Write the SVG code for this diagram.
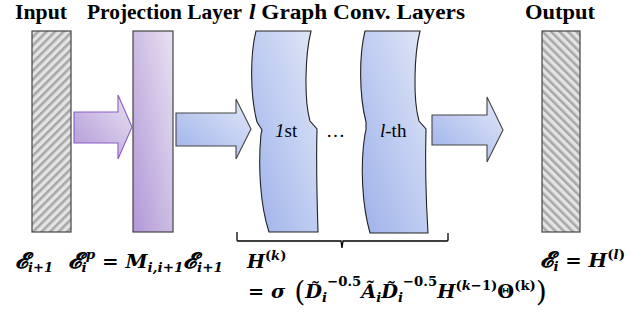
<svg xmlns="http://www.w3.org/2000/svg" width="644" height="326" viewBox="0 0 644 326">
<defs>
<linearGradient id="gBlue" x1="0" y1="1" x2="1" y2="0">
<stop offset="0" stop-color="#9db1ea"/><stop offset="1" stop-color="#e2e8f8"/>
</linearGradient>
<linearGradient id="gPurple" x1="0" y1="1" x2="1" y2="0">
<stop offset="0" stop-color="#b197d6"/><stop offset="1" stop-color="#e8e2f2"/>
</linearGradient>
<pattern id="hatchA" width="6" height="6" patternUnits="userSpaceOnUse" patternTransform="rotate(45)">
<rect width="6" height="6" fill="#e4e4e4"/><rect width="2.6" height="6" fill="#a8a8a8"/>
</pattern>
<pattern id="hatchB" width="6" height="6" patternUnits="userSpaceOnUse" patternTransform="rotate(-45)">
<rect width="6" height="6" fill="#e4e4e4"/><rect width="2.6" height="6" fill="#a8a8a8"/>
</pattern>
<style>
.title{font-family:"Liberation Serif","Times New Roman",serif;font-weight:bold;font-size:20px;fill:#000}
.lbl{font-family:"Liberation Serif","Times New Roman",serif;font-size:19px;fill:#000}
.math{font-family:"DejaVu Serif","Liberation Serif",serif;font-weight:bold;font-style:italic;font-size:19px;fill:#000}
.s{font-size:13px}
.up{font-style:normal}
.box{stroke:#444;stroke-width:1.2}
.layer{fill:url(#gBlue);stroke:#222;stroke-width:1.1}
</style>
</defs>
<rect width="644" height="326" fill="#fff"/>

<g id="titles">
<text class="title" x="15" y="19" textLength="52" lengthAdjust="spacingAndGlyphs">Input</text>
<text class="title" x="87" y="19" textLength="155" lengthAdjust="spacingAndGlyphs">Projection Layer</text>
<text class="title" x="249" y="19" textLength="216" lengthAdjust="spacingAndGlyphs"><tspan font-style="italic">l</tspan> Graph Conv. Layers</text>
<text class="title" x="525" y="19" textLength="70" lengthAdjust="spacingAndGlyphs">Output</text>
</g>

<g id="input">
<rect class="box" x="32" y="31" width="39" height="201" fill="url(#hatchA)"/>
</g>

<g id="projection">
<rect class="box" x="133" y="31" width="40" height="201" fill="url(#gPurple)"/>
</g>

<g id="layer1">
<path class="layer" d="M256,31 H311 C305,55 304,100 310,121 L317,129 C316,165 317,200 318,232 H269 C260,205 258,165 261,134 L262,130 L257,122 C250,95 250,55 256,31 Z"/>
<text class="lbl" x="275" y="137"><tspan font-style="italic">1</tspan>st</text>
</g>

<g id="dots">
<text class="lbl" x="326" y="137">…</text>
</g>

<g id="layerL">
<path class="layer" d="M365,31 H420 C414,55 413,100 419,121 L426,129 C425,165 426,200 428,233 H370 C362,205 360,165 365,134 L366,130 L366,122 C359,95 359,55 365,31 Z"/>
<text class="lbl" x="380" y="137"><tspan font-style="italic">l</tspan>-th</text>
</g>

<g id="output">
<rect class="box" x="542" y="31" width="38" height="201" fill="url(#hatchB)"/>
</g>

<g id="connectors">
<path d="M74,112 H118 V95 L132,127 L118,159 V143 H74 Z" fill="url(#gPurple)" stroke="#8a5cc6" stroke-width="1.1"/>
<path d="M176,113 H236 V99 L251,129 L236,159 V146 H176 Z" fill="url(#gBlue)" stroke="#444" stroke-width="1.1"/>
<path d="M432,115 H487 V97 L503,130 L487,162 V145 H432 Z" fill="url(#gBlue)" stroke="#444" stroke-width="1.1"/>
<path d="M237,232 V240 Q237,241 238,241 H341 L342,248 L343,241 H447 Q448,241 448,240 V233" fill="none" stroke="#000" stroke-width="1.3"/>
</g>

<g id="equations">
<text class="math" x="15" y="268" textLength="38" lengthAdjust="spacingAndGlyphs"><tspan font-size="22">𝓔</tspan><tspan class="s" dy="4">i+1</tspan></text>
<text class="math" x="68" y="268" textLength="155" lengthAdjust="spacingAndGlyphs"><tspan font-size="22">𝓔</tspan><tspan class="s" dy="4">i</tspan><tspan class="s" dx="-1" dy="-13">p</tspan><tspan dy="9" class="up"> = </tspan>M<tspan class="s" dy="4">i,i+1</tspan><tspan dy="-4" font-size="22">𝓔</tspan><tspan class="s" dy="4">i+1</tspan></text>
<text class="math" x="247" y="268">H<tspan class="s up" dy="-8">(</tspan><tspan class="s">k</tspan><tspan class="s up">)</tspan></text>
<text class="math" x="248" y="298" textLength="299" lengthAdjust="spacingAndGlyphs"><tspan class="up">= </tspan>σ<tspan class="up" font-size="28" dy="3" font-weight="normal"> (</tspan><tspan dy="-3">D̃</tspan><tspan class="s" dy="4">i</tspan><tspan class="s up" dy="-16">−0.5</tspan><tspan dy="12">Ã</tspan><tspan class="s" dy="4">i</tspan><tspan dy="-4">D̃</tspan><tspan class="s" dy="4">i</tspan><tspan class="s up" dy="-16">−0.5</tspan><tspan dy="12">H</tspan><tspan class="s up" dy="-8">(</tspan><tspan class="s">k</tspan><tspan class="s up">−1)</tspan><tspan dy="8" class="up">Θ</tspan><tspan class="s up" dy="-8">(k)</tspan><tspan font-size="28" font-weight="normal" class="up" dy="11">)</tspan></text>
<text class="math" x="540" y="267" textLength="85" lengthAdjust="spacingAndGlyphs"><tspan font-size="22">𝓔</tspan><tspan class="s" dy="4">i</tspan><tspan class="up" dy="-4"> = </tspan>H<tspan class="s up" dy="-8">(</tspan><tspan class="s">l</tspan><tspan class="s up">)</tspan></text>
</g>
</svg>
